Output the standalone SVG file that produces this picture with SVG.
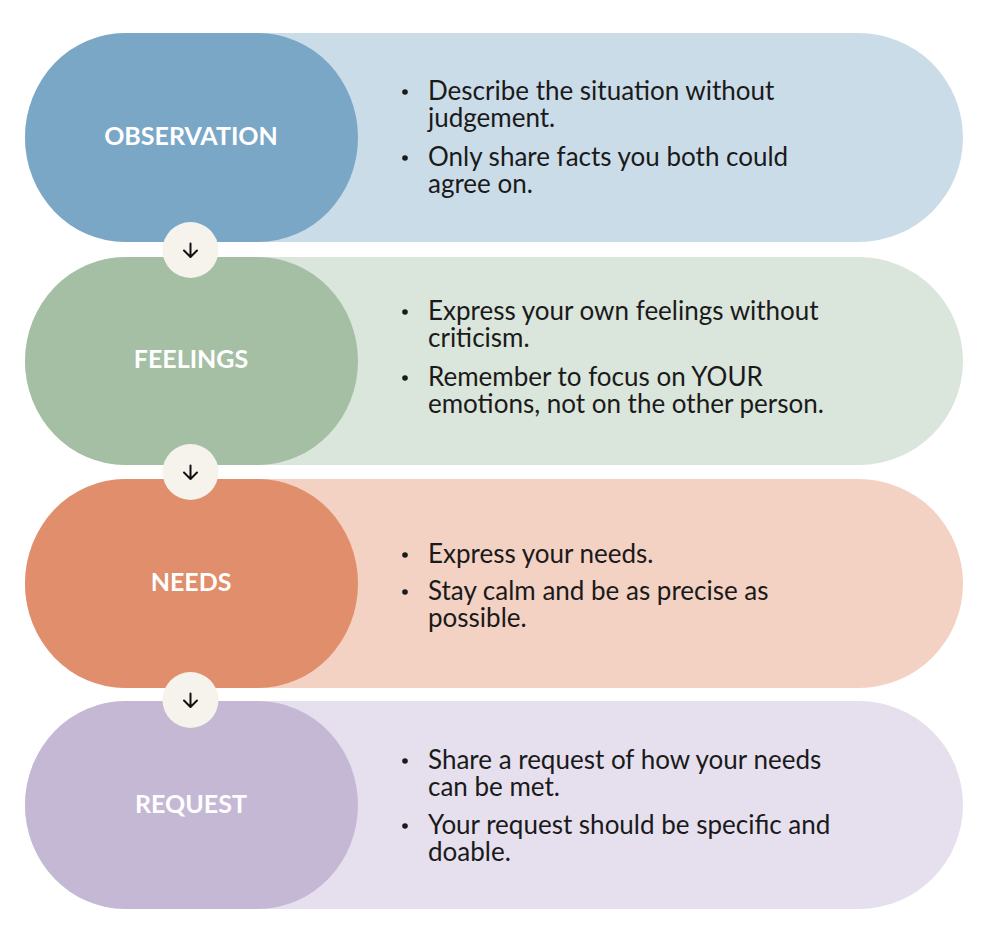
<svg xmlns="http://www.w3.org/2000/svg" width="998" height="944" viewBox="0 0 998 944">
<style>
.lab{font-family:"Lato","Open Sans",sans-serif;font-weight:700;font-size:25px;fill:#ffffff;text-anchor:middle}
.txt{font-family:"Lato","Open Sans",sans-serif;font-size:26px;fill:#1a1a1a}
.dot{fill:#1a1a1a}
.hub{fill:#f6f2ec}
.arr{fill:none;stroke:#111;stroke-width:2;stroke-linecap:round;stroke-linejoin:round}
</style>
<rect width="998" height="944" fill="#ffffff"/>
<g id="observation">
<rect x="25" y="33" width="938" height="209" rx="104.5" fill="#cbdce9"/>
<rect x="25" y="33" width="333" height="209" rx="100" ry="104.5" fill="#7ba7c7"/>
<text class="lab" x="191" y="145">OBSERVATION</text>
<circle class="dot" cx="405" cy="92" r="2.8"/>
<circle class="dot" cx="405" cy="158" r="2.8"/>
<text class="txt" x="428" y="100">Describe the situation without</text>
<text class="txt" x="428" y="127">judgement.</text>
<text class="txt" x="428" y="166">Only share facts you both could</text>
<text class="txt" x="428" y="193">agree on.</text>
</g>
<g id="feelings">
<rect x="25" y="257" width="938" height="208" rx="104" fill="#dae5dc"/>
<rect x="25" y="257" width="333" height="208" rx="100" ry="104" fill="#a5bfa4"/>
<text class="lab" x="191" y="368">FEELINGS</text>
<circle class="dot" cx="405" cy="312" r="2.8"/>
<circle class="dot" cx="405" cy="378" r="2.8"/>
<text class="txt" x="428" y="320">Express your own feelings without</text>
<text class="txt" x="428" y="347">criticism.</text>
<text class="txt" x="428" y="386">Remember to focus on YOUR</text>
<text class="txt" x="428" y="413">emotions, not on the other person.</text>
</g>
<g id="needs">
<rect x="25" y="479" width="938" height="209" rx="104.5" fill="#f3d1c3"/>
<rect x="25" y="479" width="333" height="209" rx="100" ry="104.5" fill="#e08e6b"/>
<text class="lab" x="191" y="591">NEEDS</text>
<circle class="dot" cx="405" cy="555" r="2.8"/>
<circle class="dot" cx="405" cy="592" r="2.8"/>
<text class="txt" x="428" y="563">Express your needs.</text>
<text class="txt" x="428" y="600">Stay calm and be as precise as</text>
<text class="txt" x="428" y="627">possible.</text>
</g>
<g id="request">
<rect x="25" y="701" width="938" height="208" rx="104" fill="#e6e0ee"/>
<rect x="25" y="701" width="333" height="208" rx="100" ry="104" fill="#c5b8d5"/>
<text class="lab" x="191" y="813">REQUEST</text>
<circle class="dot" cx="405" cy="761" r="2.8"/>
<circle class="dot" cx="405" cy="826" r="2.8"/>
<text class="txt" x="428" y="769">Share a request of how your needs</text>
<text class="txt" x="428" y="796">can be met.</text>
<text class="txt" x="428" y="834">Your request should be specific and</text>
<text class="txt" x="428" y="861">doable.</text>
</g>
<g id="connectors">
<circle class="hub" cx="190.5" cy="250" r="28"/>
<path class="arr" d="M190.5 243.5V256.5M184 250.5L190.5 257L197 250.5"/>
<circle class="hub" cx="190.5" cy="472" r="28"/>
<path class="arr" d="M190.5 465.5V478.5M184 472.5L190.5 479L197 472.5"/>
<circle class="hub" cx="190.5" cy="700" r="28"/>
<path class="arr" d="M190.5 693.5V706.5M184 700.5L190.5 707L197 700.5"/>
</g>
</svg>
